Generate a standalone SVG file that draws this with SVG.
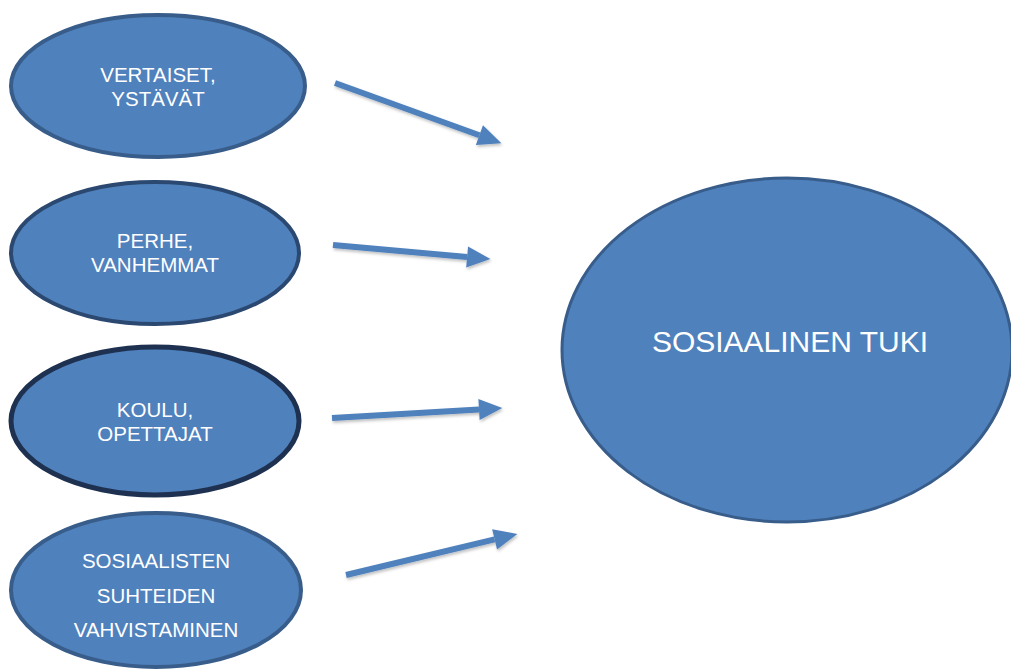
<svg xmlns="http://www.w3.org/2000/svg" width="1011" height="669" viewBox="0 0 1011 669">
<defs>
<marker id="ah" markerWidth="4" markerHeight="4" refX="0" refY="0" viewBox="0 -2 4 4" markerUnits="strokeWidth" orient="auto" overflow="visible">
<path d="M0,-1.75 L3.9,0 L0,1.75 z" fill="#4F81BD"/>
</marker>
<filter id="sh" filterUnits="userSpaceOnUse" x="0" y="0" width="1011" height="669">
<feDropShadow dx="1" dy="2" stdDeviation="1.5" flood-color="#000" flood-opacity="0.25"/>
</filter>
</defs>
<style>
.n{fill:#4F81BD}
.t{font-family:"Liberation Sans",Arial,sans-serif;fill:#FFFFFF;text-anchor:middle}
.s{font-size:20.5px}
.c line{stroke:#4F81BD;stroke-width:6;marker-end:url(#ah)}
</style>
<rect width="1011" height="669" fill="#FFFFFF"/>
<g id="n1">
<ellipse class="n" cx="158" cy="86" rx="147" ry="71" stroke="#385D8A" stroke-width="4"/>
<text class="t s" x="158" y="82">VERTAISET,</text>
<text class="t s" x="158" y="106">YSTÄVÄT</text>
</g>
<g id="n2">
<ellipse class="n" cx="155" cy="253" rx="144" ry="71" stroke="#2B4870" stroke-width="4"/>
<text class="t s" x="155" y="248">PERHE,</text>
<text class="t s" x="155" y="272">VANHEMMAT</text>
</g>
<g id="n3">
<ellipse class="n" cx="155" cy="421" rx="144" ry="74" stroke="#1E3150" stroke-width="5"/>
<text class="t s" x="155" y="417">KOULU,</text>
<text class="t s" x="155" y="441">OPETTAJAT</text>
</g>
<g id="n4">
<ellipse class="n" cx="156" cy="590" rx="145" ry="77" stroke="#385D8A" stroke-width="4"/>
<text class="t s" x="156" y="568">SOSIAALISTEN</text>
<text class="t s" x="156" y="603">SUHTEIDEN</text>
<text class="t s" x="156" y="637">VAHVISTAMINEN</text>
</g>
<g id="n5">
<ellipse class="n" cx="787" cy="350" rx="225" ry="172" stroke="#385D8A" stroke-width="3"/>
<text class="t" x="790" y="352" font-size="30">SOSIAALINEN TUKI</text>
</g>
<g class="c" id="connectors" filter="url(#sh)">
<line x1="335" y1="83" x2="479.4" y2="135.2"/>
<line x1="333" y1="245" x2="467.1" y2="257"/>
<line x1="332" y1="418" x2="479" y2="409.4"/>
<line x1="346" y1="575" x2="494.6" y2="539.4"/>
</g>
</svg>
